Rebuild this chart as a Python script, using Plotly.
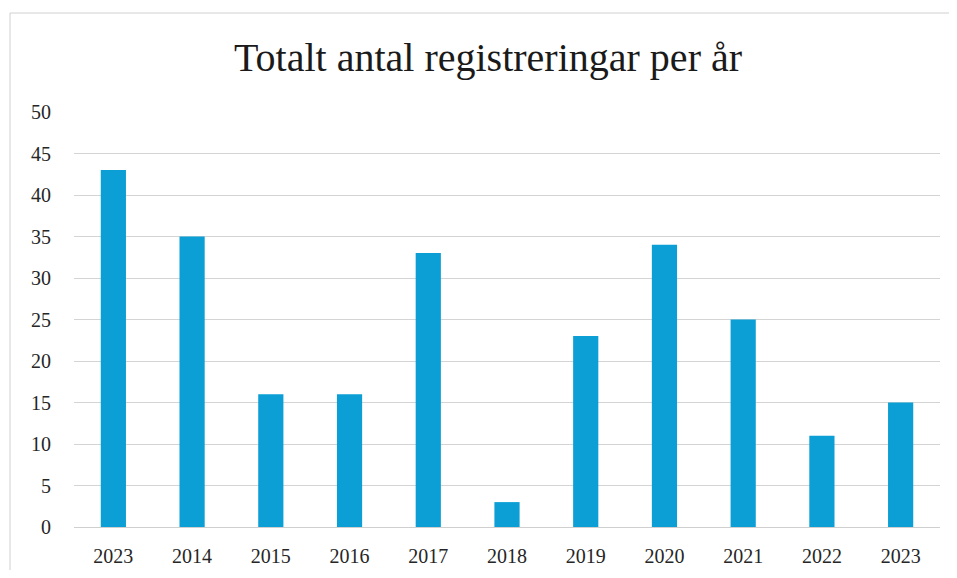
import plotly.graph_objects as go

years = ["2023", "2014", "2015", "2016", "2017", "2018", "2019", "2020", "2021", "2022", "2023"]
registreringar = [43, 35, 16, 16, 33, 3, 23, 34, 25, 11, 15]
y_ticks = [0, 5, 10, 15, 20, 25, 30, 35, 40, 45, 50]

positions = list(range(len(years)))

fig = go.Figure()
fig.add_trace(go.Bar(
    x=positions,
    y=registreringar,
    marker=dict(color="#0b9fd6", line=dict(width=0)),
    hoverinfo="x+y",
))

# page body has an 8px margin on every side; keep the figure inside the window
OFF = 8
W, H = 957 - 2 * OFF, 578 - 2 * OFF          # 941 x 562
L = 74 - OFF                                 # plot left at page x=74
T = 112 - OFF                                # plot top at page y=112
R = W - (940 - OFF)                          # plot right at page x=940
B = H - (527 - OFF)                          # plot bottom at page y=527
pw = W - L - R
ph = H - T - B

bx0 = (10 - 74) / pw
by1 = (527 - 13) / ph

fig.update_layout(
    width=W, height=H,
    margin=dict(l=L, r=R, t=T, b=B, pad=0, autoexpand=False),
    paper_bgcolor="white",
    plot_bgcolor="white",
    bargap=0.68,
    showlegend=False,
    font=dict(family="Liberation Serif, DejaVu Serif, serif", color="#262626"),
    title=dict(
        text="Totalt antal registreringar per år",
        x=(488 - OFF) / W, xanchor="center",
        y=1 - (57 - OFF) / H, yanchor="middle",
        font=dict(size=40, color="#1a1a1a", family="Liberation Serif, DejaVu Serif, serif"),
    ),
    xaxis=dict(
        tickmode="array",
        tickvals=positions,
        ticktext=years,
        range=[-0.5, len(years) - 0.5],
        showgrid=False,
        zeroline=False,
        showline=False,
        ticks="",
        tickfont=dict(size=20),
        ticklabelstandoff=15,
        automargin=False,
    ),
    yaxis=dict(
        range=[0, 50],
        tickmode="array",
        tickvals=y_ticks,
        showgrid=True,
        gridcolor="#d4d4d4",
        gridwidth=1,
        zeroline=True,
        zerolinecolor="#cfcfcf",
        zerolinewidth=1,
        showline=False,
        ticks="",
        tickfont=dict(size=20),
        ticklabelstandoff=22,
        automargin=False,
    ),
    shapes=[
        dict(type="line", xref="paper", yref="paper",
             x0=bx0, x1=1.5, y0=by1, y1=by1,
             line=dict(color="#d0d0d0", width=1), layer="below"),
        dict(type="line", xref="paper", yref="paper",
             x0=bx0, x1=bx0, y0=-0.5, y1=by1,
             line=dict(color="#d0d0d0", width=1), layer="below"),
    ],
)

fig.write_html("out.html")
